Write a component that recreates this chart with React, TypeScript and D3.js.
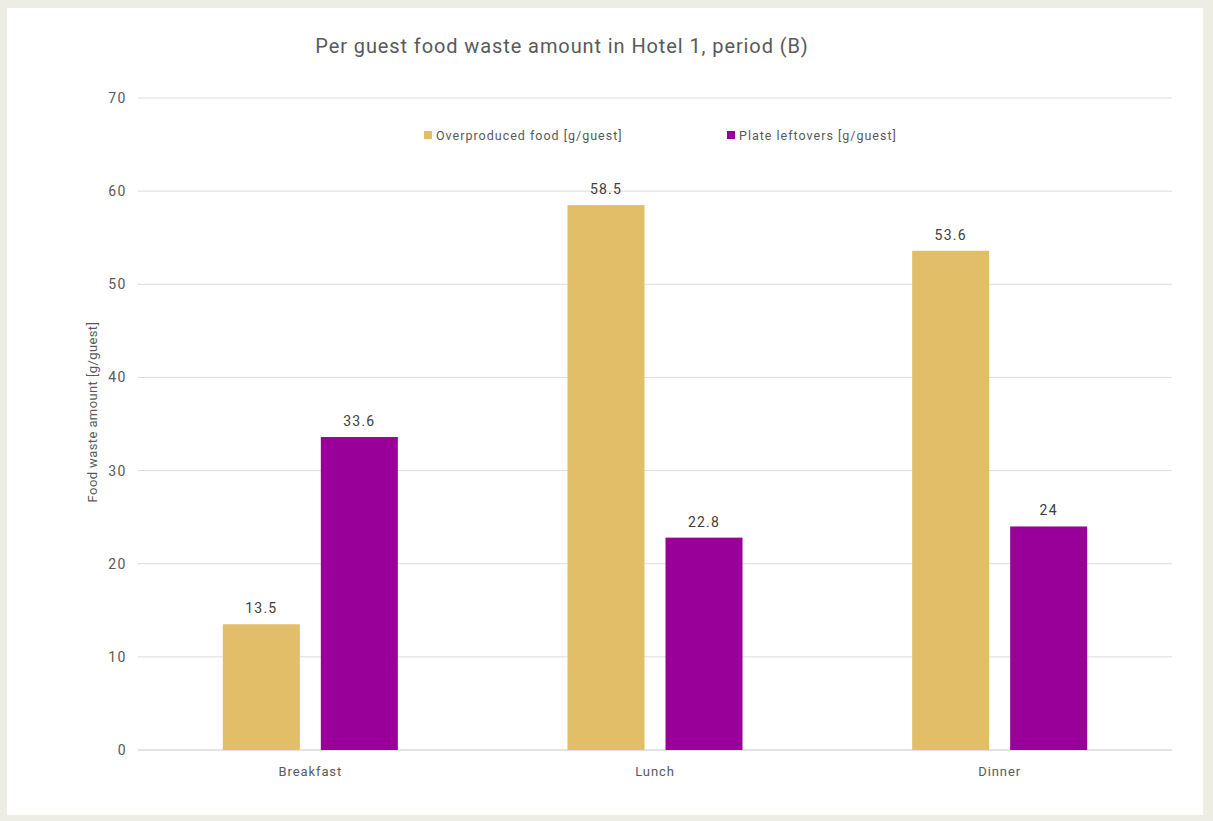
import React from "react";
import * as d3 from "d3";

const categories = ["Breakfast", "Lunch", "Dinner"];
const seriesNames = ["Overproduced food [g/guest]", "Plate leftovers [g/guest]"];
const overproduced = [13.5, 58.5, 53.6];
const leftovers = [33.6, 22.8, 24];
const yTicks = [0, 10, 20, 30, 40, 50, 60, 70];
const colors = ["#E2BE69", "#990099"];

const W = 1213, H = 821;
const M = { left: 138, right: 1172, top: 98, bottom: 750 };
const FONT = "Roboto, 'Liberation Sans', sans-serif";

export default function App() {
  const x = d3.scaleBand<string>().domain(categories).range([M.left, M.right]).paddingInner(0).paddingOuter(0);
  const y = d3.scaleLinear().domain([0, 70]).range([M.bottom, M.top]);
  const barW = 77;
  const gap = 21;
  const series = [overproduced, leftovers];
  return (
    <svg width={W} height={H} style={{ position: "absolute", left: 0, top: 0 }}>
      <rect x={0} y={0} width={W} height={H} fill="#EEEDE4" />
      <rect x={7} y={8} width={1196} height={807} fill="#ffffff" />
      <text x={562} y={53} textAnchor="middle" fontFamily={FONT} fontSize={20} letterSpacing={0.9} fill="#595959">
        Per guest food waste amount in Hotel 1, period (B)
      </text>
      {yTicks.map((t) => (
        <g key={t}>
          <line x1={M.left} x2={M.right} y1={y(t)} y2={y(t)} stroke={t === 0 ? "#C8C8C8" : "#DCDCDC"} strokeWidth={1} />
          <text x={127} y={y(t) + 5} textAnchor="end" fontFamily={FONT} fontSize={14} letterSpacing={1.5} fill="#595959">{t}</text>
        </g>
      ))}
      <text transform={`translate(97,412) rotate(-90)`} textAnchor="middle" fontFamily={FONT} fontSize={13} letterSpacing={0.4} fill="#595959">
        Food waste amount [g/guest]
      </text>
      {categories.map((c, i) => {
        const cx = (x(c) as number) + x.bandwidth() / 2;
        return (
          <g key={c}>
            {series.map((s, j) => {
              const bx = j === 0 ? cx - gap / 2 - barW : cx + gap / 2;
              return (
                <g key={j}>
                  <rect x={bx} y={y(s[i])} width={barW} height={y(0) - y(s[i])} fill={colors[j]} />
                  <text x={bx + barW / 2} y={y(s[i]) - 11} textAnchor="middle" fontFamily={FONT} fontSize={14} letterSpacing={1.2} fill="#404040">{s[i]}</text>
                </g>
              );
            })}
            <text x={cx} y={776} textAnchor="middle" fontFamily={FONT} fontSize={13} letterSpacing={0.9} fill="#595959">{c}</text>
          </g>
        );
      })}
      {seriesNames.map((n, j) => {
        const lx = j === 0 ? 424 : 727;
        return (
          <g key={n}>
            <rect x={lx} y={131} width={8} height={8} fill={colors[j]} />
            <text x={lx + 12} y={140} fontFamily={FONT} fontSize={12.5} letterSpacing={1.0} fill="#595959">{n}</text>
          </g>
        );
      })}
    </svg>
  );
}
